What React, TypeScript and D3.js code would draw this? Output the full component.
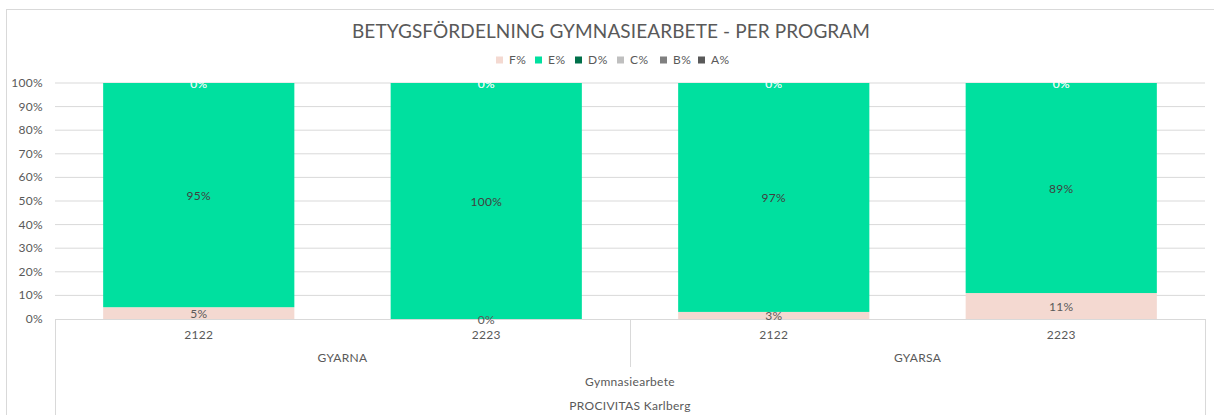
import React from "react";
import * as d3 from "d3";

const categories = ["2122", "2223", "2122", "2223"];
const groups = ["GYARNA", "GYARSA"];
const level3 = "Gymnasiearbete";
const level4 = "PROCIVITAS Karlberg";
const seriesNames = ["F%", "E%", "D%", "C%", "B%", "A%"];
const F = [5, 0, 3, 11];
const E = [95, 100, 97, 89];
const D = [0, 0, 0, 0];
const C = [0, 0, 0, 0];
const B = [0, 0, 0, 0];
const A = [0, 0, 0, 0];
const colors = ["#F4D9D1", "#00E09F", "#00704A", "#BFBFBF", "#808080", "#595959"];
const labelColors = ["#595959", "#404040", "#FFFFFF", "#FFFFFF", "#FFFFFF", "#FFFFFF"];
const yTicks = [0, 10, 20, 30, 40, 50, 60, 70, 80, 90, 100];
const title = "BETYGSFÖRDELNING GYMNASIEARBETE - PER PROGRAM";

const FONT = "'Century Gothic', 'URW Gothic', 'Lato', 'DejaVu Sans', sans-serif";

export default function App() {
  const W = 1214, H = 415;
  const left = 55, right = 1205, top = 83, bottom = 319;
  const values = [F, E, D, C, B, A];
  const idx = categories.map((_, i) => i);
  const x = d3.scaleBand<number>().domain(idx).range([left, right]).paddingInner(0.335).paddingOuter(0.1675);
  const y = d3.scaleLinear().domain([0, 100]).range([bottom, top]);
  const table = idx.map((i) => {
    const o: any = { i };
    seriesNames.forEach((s, k) => (o[s] = values[k][i]));
    return o;
  });
  const stacked = d3.stack<any>().keys(seriesNames)(table);
  const catW = (right - left) / categories.length;

  const legendItemsX = [496, 535, 575, 617, 660, 698];

  return (
    <svg width={W} height={H} style={{ position: "absolute", left: 0, top: 0, background: "#fff" }} fontFamily={FONT}>
      <rect x={6.5} y={9.5} width={W + 10} height={H + 10} fill="#fff" stroke="#D9D9D9" />
      <text x={611} y={38} textAnchor="middle" fontSize={19} fill="#595959" letterSpacing={0.1}>{title}</text>
      {seriesNames.map((s, k) => (
        <g key={s}>
          <rect x={legendItemsX[k]} y={56.5} width={7} height={7} fill={colors[k]} />
          <text x={legendItemsX[k] + 13} y={64} fontSize={12} fill="#595959" letterSpacing={0.5}>{s}</text>
        </g>
      ))}
      {yTicks.map((t) => (
        <g key={t}>
          {t > 0 && <line x1={left} x2={right} y1={y(t)} y2={y(t)} stroke="#D9D9D9" strokeWidth={1} />}
          <text x={43} y={y(t) + 4} textAnchor="end" fontSize={12} fill="#595959" letterSpacing={0.3}>{t}%</text>
        </g>
      ))}
      {stacked.map((layer, k) => (
        <g key={layer.key}>
          {layer.map((d, i) => (
            <rect key={i} x={x(i)} width={x.bandwidth()} y={y(d[1])} height={y(d[0]) - y(d[1])} fill={colors[k]} />
          ))}
        </g>
      ))}
      <line x1={left} x2={right} y1={bottom + 0.5} y2={bottom + 0.5} stroke="#D9D9D9" />
      <line x1={left + 0.5} x2={left + 0.5} y1={bottom} y2={H} stroke="#D9D9D9" />
      <line x1={right + 0.5} x2={right + 0.5} y1={bottom} y2={H} stroke="#D9D9D9" />
      <line x1={left + catW * 2 + 0.5} x2={left + catW * 2 + 0.5} y1={bottom} y2={367} stroke="#D9D9D9" />
      {stacked.map((layer, k) => (
        <g key={"l" + layer.key}>
          {layer.map((d, i) => (
            <text key={i} x={x(i)! + x.bandwidth() / 2} y={y((d[0] + d[1]) / 2) + 4.5} textAnchor="middle" fontSize={12} fill={labelColors[k]} fillOpacity={k >= 2 ? 0.45 : 1} letterSpacing={0.3}>
              {values[k][i]}%
            </text>
          ))}
        </g>
      ))}
      {categories.map((c, i) => (
        <text key={i} x={x(i)! + x.bandwidth() / 2} y={339} textAnchor="middle" fontSize={12} fill="#595959" letterSpacing={0.3}>{c}</text>
      ))}
      {groups.map((g, j) => (
        <text key={g} x={left + catW * (2 * j + 1)} y={362} textAnchor="middle" fontSize={12} fill="#595959" letterSpacing={0.3}>{g}</text>
      ))}
      <text x={(left + right) / 2} y={386} textAnchor="middle" fontSize={12} fill="#595959" letterSpacing={0.3}>{level3}</text>
      <text x={(left + right) / 2} y={410} textAnchor="middle" fontSize={12} fill="#595959" letterSpacing={0.3}>{level4}</text>
    </svg>
  );
}
